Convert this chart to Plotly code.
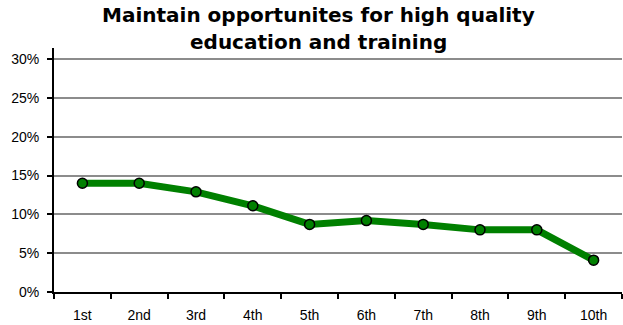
import plotly.graph_objects as go

categories = ["1st", "2nd", "3rd", "4th", "5th", "6th", "7th", "8th", "9th", "10th"]
values = [0.14, 0.14, 0.129, 0.111, 0.087, 0.092, 0.087, 0.080, 0.080, 0.041]
y_ticks = [0, 0.05, 0.10, 0.15, 0.20, 0.25, 0.30]
y_tick_labels = ["0%", "5%", "10%", "15%", "20%", "25%", "30%"]
title_line1 = "Maintain opportunites for high quality"
title_line2 = "education and training"

FONT = "Liberation Sans, Arial, sans-serif"

fig = go.Figure()
fig.add_trace(go.Scatter(
    x=categories, y=values, mode="lines+markers",
    line=dict(color="#008000", width=7),
    marker=dict(color="#008000", size=10, line=dict(color="black", width=1.5)),
    showlegend=False,
))

title_font = dict(size=20, family="DejaVu Sans, sans-serif", color="black")
fig.add_annotation(text="<b>" + title_line1 + "</b>", xref="paper", yref="paper",
                   x=0.465, y=1.136, xanchor="center", yanchor="middle",
                   showarrow=False, font=title_font)
fig.add_annotation(text="<b>" + title_line2 + "</b>", xref="paper", yref="paper",
                   x=0.465, y=1.025, xanchor="center", yanchor="middle",
                   showarrow=False, font=title_font)

fig.update_layout(
    width=623, height=325,
    margin=dict(l=54, r=1, t=48, b=33),
    paper_bgcolor="white", plot_bgcolor="white",
    font=dict(family=FONT, color="black", size=14),
)
fig.update_xaxes(
    type="category", range=[-0.5, 9.5],
    showline=True, linecolor="black", linewidth=2,
    ticks="outside", tickson="boundaries", ticklen=5, tickcolor="black", tickwidth=2,
    showgrid=False, tickfont=dict(size=14), ticklabelstandoff=9,
)
fig.update_yaxes(
    range=[0, 0.3142], tickvals=y_ticks, ticktext=y_tick_labels,
    showline=True, linecolor="black", linewidth=2,
    ticks="outside", ticklen=5, tickcolor="black", tickwidth=2,
    showgrid=True, gridcolor="#8c8c8c", gridwidth=2,
    zeroline=False, tickfont=dict(size=14), ticklabelstandoff=5,
)

fig.write_html("out.html")
